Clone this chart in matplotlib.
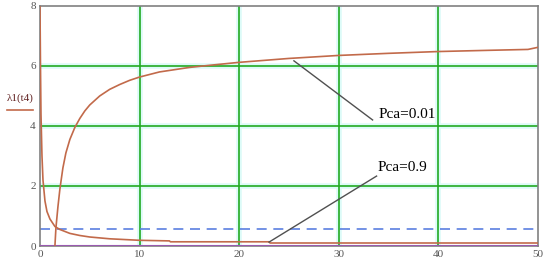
import matplotlib.pyplot as plt

# Pca = 0.01 curve (rising)
t_hi = [1.5, 1.6, 1.8, 2.0, 2.3, 2.6, 3.0, 3.5, 4.0, 4.5, 5.0, 6.0, 7.0, 8.0, 9.0, 10.0, 12.0, 15.0, 17.0, 20.0, 25.0, 30.0, 35.0, 40.0, 45.0, 49.0, 50.0]
lam_hi = [0.0, 0.6, 1.3, 1.9, 2.6, 3.1, 3.55, 3.95, 4.25, 4.5, 4.7, 5.0, 5.22, 5.38, 5.52, 5.63, 5.8, 5.95, 6.02, 6.12, 6.25, 6.35, 6.42, 6.48, 6.52, 6.55, 6.62]

# Pca = 0.9 curve (falling)
t_lo = [0.0, 0.05, 0.1, 0.2, 0.3, 0.5, 0.7, 1.0, 1.5, 2.0, 3.0, 4.0, 5.0, 7.0, 10.0, 13.0, 13.1, 23.0, 23.1, 50.0]
lam_lo = [8.0, 6.0, 4.4, 3.0, 2.2, 1.5, 1.15, 0.9, 0.65, 0.55, 0.42, 0.35, 0.3, 0.24, 0.19, 0.17, 0.14, 0.14, 0.1, 0.1]

dash_level = 0.58

x_ticks = [0, 10, 20, 30, 40, 50]
y_ticks = [0, 2, 4, 6, 8]

curve_color = "#c26a4a"
grid_color = "#22aa22"
serif = "Liberation Serif"

fig = plt.figure(figsize=(5.5, 2.69), dpi=100)
ax = fig.add_axes([0.0727, 0.0855, 0.9053, 0.8925])

for v in x_ticks[1:-1]:
    ax.axvline(v, color="#dcfbf8", lw=4, zorder=0)
    ax.axvline(v, color=grid_color, lw=1.2, zorder=1)
for v in y_ticks[1:-1]:
    ax.axhline(v, color="#dcfbf8", lw=4, zorder=0)
    ax.axhline(v, color=grid_color, lw=1.2, zorder=1)

ax.axhline(dash_level, color="#5b7fe0", lw=1.2, ls=(0, (6, 4)), zorder=2)
ax.axhline(0.0, color="#9a5ab0", lw=1.5, zorder=3)

ax.plot(t_hi, lam_hi, color=curve_color, lw=1.2, zorder=4)
ax.plot(t_lo, lam_lo, color=curve_color, lw=1.2, zorder=4)

# annotation leader lines
ax.plot([25.5, 33.4], [6.17, 4.2], color="#505050", lw=1.0, zorder=5)
ax.plot([23.0, 33.8], [0.13, 2.33], color="#505050", lw=1.0, zorder=5)
ax.text(34.0, 4.37, "Pca=0.01", family=serif, fontsize=11, va="center", ha="left")
ax.text(33.9, 2.63, "Pca=0.9", family=serif, fontsize=11, va="center", ha="left")

ax.set_xlim(0, 50)
ax.set_ylim(0, 8)
ax.set_xticks(x_ticks)
ax.set_yticks(y_ticks)
ax.tick_params(length=0, labelsize=8, colors="#555555", pad=3)
for lbl in ax.get_xticklabels() + ax.get_yticklabels():
    lbl.set_family(serif)
for s in ax.spines.values():
    s.set_color("#808080")
    s.set_linewidth(1.2)

fig.text(0.012, 0.635, "λ1(t4)", family=serif, fontsize=8, color="#602020", va="center")
fig.add_artist(plt.Line2D([0.012, 0.06], [0.59, 0.59], color=curve_color, lw=1.2))

fig.savefig("out.png", dpi=100, facecolor="white")
